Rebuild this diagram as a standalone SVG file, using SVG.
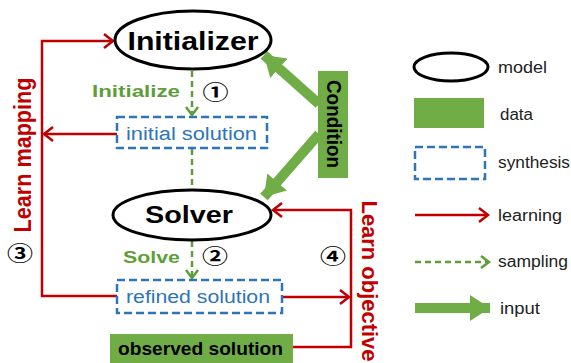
<svg xmlns="http://www.w3.org/2000/svg" width="571" height="363" viewBox="0 0 571 363">
<style>
.model{fill:#fff;stroke:#000;stroke-width:3}
.data{fill:#70AD47}
.syn{fill:#fff;stroke:#2E75B6;stroke-width:2.5;stroke-dasharray:8 4}
.learn{fill:none;stroke:#C00000;stroke-width:2.5}
.samp{fill:none;stroke:#5E9E3A;stroke-width:2.5;stroke-dasharray:6 4}
.inp{fill:none;stroke:#70AD47;stroke-width:10}
.bold{font-family:"Liberation Sans",Arial,sans-serif;font-weight:bold}
.reg{font-family:"Liberation Sans",Arial,sans-serif}
.num{font-family:"Noto Sans CJK JP","Noto Sans CJK SC","DejaVu Sans",sans-serif;font-size:20px;font-weight:bold;fill:#000}
.leg{font-family:"Liberation Sans",Arial,sans-serif;font-size:16px;fill:#222}
</style>
<defs>
<marker id="ar" markerUnits="userSpaceOnUse" markerWidth="16" markerHeight="18" refX="12" refY="9" orient="auto" viewBox="0 0 16 18">
<path d="M3,2 L12,9 L3,16" fill="none" stroke="#C00000" stroke-width="2.5"/>
</marker>
<marker id="ag" markerUnits="userSpaceOnUse" markerWidth="16" markerHeight="16" refX="12" refY="8" orient="auto" viewBox="0 0 16 16">
<path d="M4,2 L12,8 L4,14" fill="none" stroke="#5E9E3A" stroke-width="2.5"/>
</marker>
<marker id="ai" markerUnits="userSpaceOnUse" markerWidth="22" markerHeight="26" refX="20" refY="13" orient="auto" viewBox="0 0 22 26">
<path d="M0,0 L20,13 L0,26 Z" fill="#70AD47"/>
</marker>
</defs>

<g id="connectors">
<path class="samp" d="M192,71 V115" marker-end="url(#ag)"/>
<path class="samp" d="M192,149 V190"/>
<path class="samp" d="M192,241 V278" marker-end="url(#ag)"/>
<path class="learn" d="M117,296 H42 V41 H113" marker-end="url(#ar)"/>
<path class="learn" d="M117,134 H44" marker-end="url(#ar)"/>
<path class="learn" d="M293,347 H351 V210 H273" marker-end="url(#ar)"/>
<path class="learn" d="M282,297 H349" marker-end="url(#ar)"/>
<path class="inp" d="M319,104 L264,55" marker-end="url(#ai)"/>
<path class="inp" d="M319,134 L264,197" marker-end="url(#ai)"/>
</g>

<g id="initializer">
<ellipse class="model" cx="193" cy="40" rx="78" ry="29"/>
<text class="bold" x="193" y="50" font-size="25" text-anchor="middle" textLength="131" lengthAdjust="spacingAndGlyphs">Initializer</text>
</g>

<g id="initialize-label">
<text class="bold" x="92" y="97" font-size="17" fill="#5E9E3A" textLength="88" lengthAdjust="spacingAndGlyphs">Initialize</text>
<text class="num" transform="translate(215.5,99.5) scale(1.3,1)" text-anchor="middle">①</text>
</g>

<g id="initial-solution">
<rect class="syn" x="117" y="117" width="150" height="31"/>
<text class="reg" x="126" y="140" font-size="18" fill="#2E75B6" textLength="131" lengthAdjust="spacingAndGlyphs">initial solution</text>
</g>

<g id="solver">
<ellipse class="model" cx="192" cy="215" rx="79" ry="25"/>
<text class="bold" x="189" y="223" font-size="24" text-anchor="middle" textLength="88" lengthAdjust="spacingAndGlyphs">Solver</text>
</g>

<g id="solve-label">
<text class="bold" x="123" y="263" font-size="17" fill="#5E9E3A" textLength="57" lengthAdjust="spacingAndGlyphs">Solve</text>
<text class="num" transform="translate(215,264) scale(1.3,1)" text-anchor="middle">②</text>
</g>

<g id="refined-solution">
<rect class="syn" x="117" y="280" width="165" height="33"/>
<text class="reg" x="126" y="303" font-size="18" fill="#2E75B6" textLength="144" lengthAdjust="spacingAndGlyphs">refined solution</text>
</g>

<g id="observed-solution">
<rect class="data" x="110" y="334" width="183" height="35"/>
<text class="bold" x="118" y="355" font-size="19" fill="#000" textLength="165" lengthAdjust="spacingAndGlyphs">observed solution</text>
</g>

<g id="condition">
<rect class="data" x="318" y="71" width="30" height="107"/>
<text class="bold" font-size="19" fill="#000" text-anchor="middle" transform="translate(327,124) scale(1.1,1) rotate(90)" textLength="88" lengthAdjust="spacingAndGlyphs">Condition</text>
</g>

<g id="learn-mapping">
<text class="bold" font-size="21" fill="#C00000" text-anchor="middle" transform="translate(31,155) scale(1.1,1) rotate(-90)" textLength="155" lengthAdjust="spacingAndGlyphs">Learn mapping</text>
<text class="num" transform="translate(20,261) scale(1.3,1)" text-anchor="middle">③</text>
</g>

<g id="learn-objective">
<text class="bold" font-size="21" fill="#C00000" text-anchor="middle" transform="translate(362,281) scale(1.05,1) rotate(90)" textLength="161" lengthAdjust="spacingAndGlyphs">Learn objective</text>
<text class="num" transform="translate(333,264) scale(1.3,1)" text-anchor="middle">④</text>
</g>

<g id="legend">
<ellipse class="model" cx="451" cy="67" rx="37" ry="14" stroke-width="2.5"/>
<text class="leg" x="498" y="73" textLength="49" lengthAdjust="spacingAndGlyphs">model</text>
<rect class="data" x="414" y="98" width="70" height="30"/>
<text class="leg" x="500" y="120" textLength="33" lengthAdjust="spacingAndGlyphs">data</text>
<rect class="syn" x="415" y="147" width="70" height="32"/>
<text class="leg" x="498" y="168" textLength="72" lengthAdjust="spacingAndGlyphs">synthesis</text>
<path class="learn" d="M415,215 H488" marker-end="url(#ar)"/>
<text class="leg" x="498" y="221" textLength="64" lengthAdjust="spacingAndGlyphs">learning</text>
<path class="samp" d="M415,262 H489" marker-end="url(#ag)"/>
<text class="leg" x="498" y="267" textLength="70" lengthAdjust="spacingAndGlyphs">sampling</text>
<path class="inp" d="M415,308 H490" marker-end="url(#ai)"/>
<text class="leg" x="500" y="314" textLength="40" lengthAdjust="spacingAndGlyphs">input</text>
</g>
</svg>
